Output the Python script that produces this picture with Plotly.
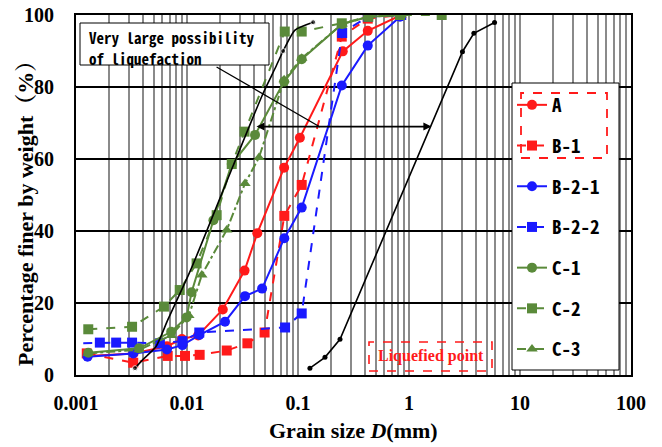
import math
import plotly.graph_objects as go

# ---------------- data ----------------
A_d = [0.00127, 0.0033, 0.0066, 0.009, 0.0126, 0.021, 0.033, 0.043, 0.075, 0.104, 0.253, 0.425, 0.85]
A_p = [5.3, 6.0, 8.0, 10.0, 11.0, 18.2, 29.0, 39.4, 57.6, 65.9, 89.9, 95.6, 100]

B1_d = [0.00125, 0.00328, 0.0067, 0.0096, 0.013, 0.0228, 0.035, 0.05, 0.0753, 0.108, 0.248, 0.425, 0.85]
B1_p = [6.0, 3.4, 5.3, 5.3, 5.6, 6.8, 8.8, 11.8, 44.2, 52.8, 94.0, 99.0, 100]

B21_d = [0.00127, 0.00328, 0.0066, 0.0091, 0.0129, 0.022, 0.0333, 0.0475, 0.0753, 0.108, 0.248, 0.425, 0.83]
B21_p = [5.1, 6.0, 7.1, 8.3, 11.1, 14.8, 21.9, 24.0, 38.0, 46.5, 80.4, 91.5, 99.5]

B22_d = [0.0008, 0.00164, 0.0023, 0.0032, 0.0057, 0.0091, 0.0129, 0.0765, 0.108, 0.25, 0.425, 0.85]
B22_p = [8.8, 9.0, 9.0, 9.0, 8.8, 9.4, 11.8, 13.2, 17.1, 95.0, 99.5, 100]

C1_d = [0.00129, 0.0037, 0.0072, 0.0099, 0.011, 0.0173, 0.0253, 0.041, 0.075, 0.108, 0.25, 0.43, 0.85]
C1_p = [6.2, 7.4, 12.0, 16.0, 23.0, 43.0, 58.6, 66.7, 81.5, 87.7, 97.5, 99.5, 100]

C2_d = [0.00129, 0.0032, 0.0062, 0.0086, 0.0122, 0.0185, 0.0253, 0.033, 0.076, 0.108, 0.248, 0.43, 0.83, 1.97]
C2_p = [12.7, 13.4, 19.0, 23.6, 31.0, 44.4, 58.6, 67.6, 95.4, 95.4, 97.7, 99.5, 100, 100]

C3_d = [0.00129, 0.0037, 0.0072, 0.0104, 0.0136, 0.0228, 0.0333, 0.0445, 0.075, 0.108, 0.25, 0.43, 0.85]
C3_p = [6.0, 7.0, 11.0, 16.5, 27.8, 40.3, 53.2, 60.4, 82.0, 88.0, 97.5, 99.5, 100]

# boundary curves of the liquefaction zone
LL_d = [0.0034, 0.00398, 0.00526, 0.00671, 0.0108, 0.0261, 0.0484, 0.0622, 0.0735, 0.094, 0.137]
LL_p = [1.9, 4.2, 7.9, 15.3, 29.2, 58.2, 78.2, 85.2, 90.0, 95.8, 98.0]
LL_dot = [1, 0, 0, 0, 0, 0, 0, 0, 1, 0, 1]

RL_d = [0.128, 0.175, 0.239, 3.03, 3.84, 5.9]
RL_p = [1.9, 4.9, 9.9, 89.8, 94.9, 97.9]

x_tickvals = [0.001, 0.01, 0.1, 1, 10, 100]
x_ticktext = ["0.001", "0.01", "0.1", "1", "10", "100"]
y_tickvals = [0, 20, 40, 60, 80, 100]

arrow_y = 69.0
arrow_left_d = 0.041
arrow_right_d = 1.59
pointer_from = (0.0179, 85.8)
pointer_to = (0.158, 68.9)

# ---------------- styling ----------------
RED = "#ff1a1a"
BLUE = "#1a1aff"
GREEN = "#5a8a3a"

series = [
    ("A", A_d, A_p, RED, "solid", "circle"),
    ("B-1", B1_d, B1_p, RED, "dash", "square"),
    ("B-2-1", B21_d, B21_p, BLUE, "solid", "circle"),
    ("B-2-2", B22_d, B22_p, BLUE, "dash", "square"),
    ("C-1", C1_d, C1_p, GREEN, "solid", "circle"),
    ("C-2", C2_d, C2_p, GREEN, "dash", "square"),
    ("C-3", C3_d, C3_p, GREEN, "dashdot", "triangle-up"),
]

fig = go.Figure()
for name, d, p, col, dash, sym in series:
    fig.add_trace(go.Scatter(
        x=d, y=p, name=name, legendgroup=name, mode="lines+markers",
        line=dict(color=col, width=2, dash=dash),
        marker=dict(symbol=sym, size=10, color=col),
    ))

fig.add_trace(go.Scatter(
    x=LL_d, y=LL_p, mode="lines+markers", showlegend=False,
    line=dict(color="black", width=1.6, shape="spline", smoothing=0.6),
    marker=dict(size=[5 * v for v in LL_dot], color="black"),
))
fig.add_trace(go.Scatter(
    x=RL_d, y=RL_p, mode="lines+markers", showlegend=False,
    line=dict(color="black", width=1.6),
    marker=dict(size=5, color="black"),
))

# page margin is removed (post_script), so the plot lands at x 76..631, y 15..375
OFF = 0
W, H = 662, 447
L, R, T, B = 76 - OFF, 31 + OFF, 15 - OFF, 72 + OFF
PW, PH = W - L - R, H - T - B


def px(x):
    return (x - OFF - L) / PW


def py(y):
    return (T + PH - (y - OFF)) / PH


shapes = [
    # legend background + frame
    dict(type="rect", xref="paper", yref="paper", x0=px(512), x1=px(619), y0=py(370), y1=py(83),
         fillcolor="white", line=dict(color="black", width=1), layer="above"),
    # red dashed group box in legend
    dict(type="rect", xref="paper", yref="paper", x0=px(521), x1=px(607), y0=py(158), y1=py(93),
         line=dict(color=RED, width=1.8, dash="dash"), layer="above"),
    # text box
    dict(type="rect", xref="paper", yref="paper", x0=px(80), x1=px(269), y0=py(65), y1=py(23),
         fillcolor="white", line=dict(color="black", width=1), layer="above"),
    # liquefied point box
    dict(type="rect", xref="paper", yref="paper", x0=px(369), x1=px(492), y0=py(371), y1=py(342),
         line=dict(color=RED, width=1.6, dash="dash"), layer="above"),
]

mono = "Noto Sans Mono CJK JP, DejaVu Sans Mono, monospace"
serif = "Liberation Serif, Times New Roman, Noto Serif CJK JP, Noto Sans CJK JP, serif"

annotations = [
    dict(xref="paper", yref="paper", x=px(87), y=py(37), xanchor="left", yanchor="middle",
         text="Very large possibility", showarrow=False,
         font=dict(family=mono, size=15, color="black", weight="bold")),
    dict(xref="paper", yref="paper", x=px(87), y=py(58), xanchor="left", yanchor="middle",
         text="of liquefaction", showarrow=False,
         font=dict(family=mono, size=15, color="black", weight="bold")),
    # pointer line from text box
    dict(xref="x", yref="y", axref="x", ayref="y",
         x=math.log10(pointer_to[0]), y=pointer_to[1],
         ax=math.log10(pointer_from[0]), ay=pointer_from[1],
         text="", showarrow=True, arrowhead=0, arrowwidth=1.3, arrowcolor="black"),
    # double arrow
    dict(xref="x", yref="y", axref="x", ayref="y",
         x=math.log10(arrow_right_d), y=arrow_y,
         ax=math.log10(arrow_left_d), ay=arrow_y,
         text="", showarrow=True, arrowhead=2, arrowside="end+start", arrowsize=1,
         arrowwidth=1.6, arrowcolor="black"),
    dict(xref="paper", yref="paper", x=px(431), y=py(356), xanchor="center", yanchor="middle",
         text="Liquefied point", showarrow=False,
         font=dict(family=serif, size=16, color=RED, weight="bold")),
    # axis titles
    dict(xref="paper", yref="paper", x=0.5, y=py(431), xanchor="center", yanchor="middle",
         text="Grain size <i>D</i>(mm)", showarrow=False,
         font=dict(family=serif, size=22, color="black", weight="bold")),
    dict(xref="paper", yref="paper", x=px(25), y=py(208), xanchor="center", yanchor="middle",
         text="Percentage finer by weight（%）", textangle=-90, showarrow=False,
         font=dict(family=serif, size=22, color="black", weight="bold")),
]

fig.update_layout(
    width=W, height=H,
    margin=dict(l=L, r=R, t=T, b=B, pad=0, autoexpand=False),
    paper_bgcolor="white", plot_bgcolor="white",
    shapes=shapes, annotations=annotations,
    showlegend=True,
    legend=dict(x=px(512), y=py(86), xanchor="left", yanchor="top",
                bgcolor="rgba(0,0,0,0)", borderwidth=0,
                traceorder="grouped", tracegroupgap=13,
                font=dict(family=mono, size=19, color="black", weight="bold")),
    xaxis=dict(type="log", range=[-3, 2], tickmode="array", tickvals=x_tickvals, ticktext=x_ticktext,
               showgrid=True, gridcolor="#8a8a8a", gridwidth=1.5,
               minor=dict(dtick="D1", showgrid=True, gridcolor="#8a8a8a", gridwidth=1.5),
               showline=True, linecolor="black", linewidth=2, mirror=True,
               ticks="", ticklabelstandoff=9, zeroline=False, automargin=False,
               ticklabeloverflow="allow",
               tickfont=dict(family=serif, size=20, color="black", weight="bold")),
    yaxis=dict(range=[0, 100], tickmode="array", tickvals=y_tickvals,
               showgrid=True, gridcolor="black", gridwidth=1.5,
               showline=True, linecolor="black", linewidth=2, mirror=True,
               ticks="", ticklabelstandoff=16, zeroline=False, automargin=False,
               ticklabeloverflow="allow",
               tickfont=dict(family=serif, size=20, color="black", weight="bold")),
)

fig.write_html("out.html", config={"displayModeBar": False},
               post_script="document.body.style.margin='0px';")
